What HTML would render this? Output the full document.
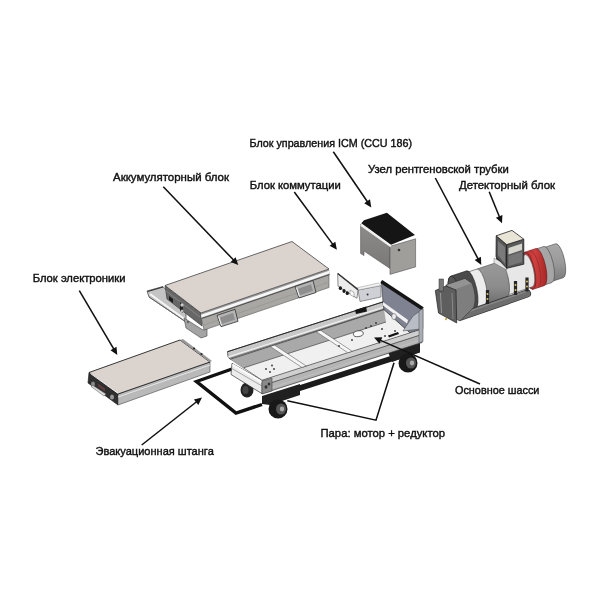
<!DOCTYPE html>
<html><head><meta charset="utf-8"><style>
html,body{margin:0;padding:0;background:#fff;width:600px;height:600px;overflow:hidden}
svg{display:block;filter:blur(0.3px)}
text{font-family:"Liberation Sans",sans-serif;font-size:11.5px;fill:#111;stroke:#111;stroke-width:0.42px}
.ln{stroke:#111;stroke-width:1.55}
</style></head><body>
<svg width="600" height="600" viewBox="0 0 600 600">
<defs>
<linearGradient id="gICM" x1="0" y1="0" x2="0" y2="1"><stop offset="0" stop-color="#8c8b89"/><stop offset="1" stop-color="#7a7977"/></linearGradient>
<linearGradient id="gCyl" x1="0" y1="0" x2="0" y2="1"><stop offset="0" stop-color="#a8a8a8"/><stop offset="0.5" stop-color="#9a9a9a"/><stop offset="1" stop-color="#7a7a7a"/></linearGradient>
<linearGradient id="gCyl2" x1="0" y1="0" x2="0" y2="1"><stop offset="0" stop-color="#9a9a9a"/><stop offset="0.6" stop-color="#8c8c8c"/><stop offset="1" stop-color="#6e6e6e"/></linearGradient>
<linearGradient id="gRed" x1="0" y1="0" x2="1" y2="0"><stop offset="0" stop-color="#b52a2a"/><stop offset="0.5" stop-color="#d04040"/><stop offset="1" stop-color="#a82626"/></linearGradient>
</defs><polygon points="262.0,397.2 420.0,346.6 420.0,352.6 262.0,403.2" fill="#1b1b1b" />
<ellipse cx="247.0" cy="390.0" rx="6.5" ry="7.5" fill="#222"/>
<ellipse cx="245.5" cy="390.0" rx="3.0" ry="4.0" fill="#444"/>
<polyline points="232.0,369.0 196.5,381.5 236.0,413.0 262.0,404.5" fill="none" stroke="#111" stroke-width="3.4" stroke-linejoin="miter" />
<polygon points="262.0,396.0 300.0,384.0 300.0,395.0 270.0,405.0 262.0,404.0" fill="#202020" />
<polygon points="388.0,352.0 420.0,341.0 420.0,352.0 392.0,362.0" fill="#202020" />
<ellipse cx="278.0" cy="409.0" rx="9.5" ry="9.5" fill="#181818"/>
<ellipse cx="281.0" cy="409.0" rx="5.0" ry="5.5" fill="#555"/>
<ellipse cx="282.0" cy="409.0" rx="2.2" ry="2.4" fill="#aaa"/>
<ellipse cx="408.0" cy="363.0" rx="9.5" ry="9.5" fill="#181818"/>
<ellipse cx="411.0" cy="363.0" rx="5.0" ry="5.5" fill="#555"/>
<ellipse cx="412.0" cy="363.0" rx="2.2" ry="2.4" fill="#aaa"/>
<polygon points="262.0,380.2 422.0,329.0 422.0,342.5 262.0,393.7" fill="#b4b4b4" stroke="#333" stroke-width="0.7" stroke-linejoin="round" />
<polygon points="262.0,380.2 422.0,329.0 422.0,334.5 262.0,385.7" fill="#cfcfcf" />
<line x1="262.0" y1="385.7" x2="422.0" y2="334.5" stroke="#444" stroke-width="0.8"/>
<line x1="262.0" y1="390.7" x2="422.0" y2="339.5" stroke="#c4c4c4" stroke-width="0.8"/>
<polygon points="232.0,363.3 262.0,380.2 262.0,393.7 231.0,374.5" fill="#ececec" stroke="#333" stroke-width="0.7" stroke-linejoin="round" />
<line x1="232.5" y1="364.5" x2="262.0" y2="382.0" stroke="#fbfbfb" stroke-width="2.0"/>
<line x1="231.0" y1="368.0" x2="262.0" y2="386.0" stroke="#777" stroke-width="0.6"/>
<polygon points="230.5,359.2 384.0,309.6 410.0,332.8 262.0,380.2" fill="#f0f0f0" stroke="#333" stroke-width="0.6" stroke-linejoin="round" />
<polygon points="230.5,359.2 384.0,309.6 386.0,322.0 243.5,367.9" fill="#a9a9a9" />
<line x1="243.5" y1="367.9" x2="386.0" y2="322.0" stroke="#444" stroke-width="0.7"/>
<polygon points="269.8,346.2 274.2,344.8 306.2,366.0 301.8,367.4" fill="#f6f6f6" stroke="#444" stroke-width="0.5" stroke-linejoin="round" />
<polygon points="315.8,331.4 320.2,330.0 352.2,351.3 347.8,352.7" fill="#f6f6f6" stroke="#444" stroke-width="0.5" stroke-linejoin="round" />
<ellipse cx="358.3" cy="333.7" rx="5.0" ry="2.9" fill="#fafafa" transform="rotate(-8 358.3 333.7)" stroke="#444" stroke-width="0.8"/>
<ellipse cx="266.0" cy="369.0" rx="0.9" ry="0.9" fill="#333"/>
<ellipse cx="270.0" cy="372.0" rx="0.9" ry="0.9" fill="#333"/>
<ellipse cx="274.0" cy="369.0" rx="0.9" ry="0.9" fill="#333"/>
<ellipse cx="272.0" cy="365.5" rx="0.9" ry="0.9" fill="#333"/>
<ellipse cx="339.0" cy="346.0" rx="0.9" ry="0.9" fill="#333"/>
<ellipse cx="371.0" cy="326.0" rx="0.9" ry="0.9" fill="#333"/>
<ellipse cx="376.0" cy="323.0" rx="0.9" ry="0.9" fill="#333"/>
<ellipse cx="382.0" cy="329.0" rx="0.9" ry="0.9" fill="#333"/>
<ellipse cx="385.0" cy="336.0" rx="0.9" ry="0.9" fill="#333"/>
<ellipse cx="352.0" cy="340.0" rx="0.9" ry="0.9" fill="#333"/>
<ellipse cx="395.0" cy="331.0" rx="0.9" ry="0.9" fill="#333"/>
<ellipse cx="366.0" cy="328.0" rx="0.9" ry="0.9" fill="#333"/>
<polygon points="227.5,351.7 383.0,301.9 384.0,309.6 230.5,359.2 228.0,357.0" fill="#c8c8c8" stroke="#333" stroke-width="0.7" stroke-linejoin="round" />
<line x1="228.0" y1="357.0" x2="383.5" y2="307.3" stroke="#f4f4f4" stroke-width="1.1"/>
<line x1="229.0" y1="358.7" x2="384.0" y2="309.1" stroke="#444" stroke-width="0.7"/>
<line x1="227.5" y1="351.7" x2="383.0" y2="301.9" stroke="#222" stroke-width="0.9"/>
<polygon points="381.3,281.0 422.7,308.3 422.7,328.7 410.0,332.8 384.0,309.6 383.0,301.9" fill="#7f8291" stroke="#333" stroke-width="0.6" stroke-linejoin="round" />
<polygon points="383.0,302.0 408.0,320.0 407.0,323.5 383.0,305.5" fill="#f2f2f2" />
<ellipse cx="394.0" cy="316.5" rx="2.3" ry="3.0" fill="#ececec" stroke="#555" stroke-width="0.5"/>
<polygon points="403.0,331.0 413.0,316.0 422.7,309.0 422.7,328.7" fill="#b9bdc6" stroke="#444" stroke-width="0.5" stroke-linejoin="round" />
<polyline points="381.3,281.5 422.7,308.8" fill="none" stroke="#151515" stroke-width="3.6" stroke-linejoin="miter" />
<polygon points="388.0,335.5 398.0,332.0 399.0,334.0 389.0,337.5" fill="#111" />
<polygon points="419.0,311.0 423.0,308.5 423.0,341.5 419.0,343.0" fill="#a9adb5" stroke="#444" stroke-width="0.5" stroke-linejoin="round" />
<polygon points="355.0,310.0 366.0,306.5 367.0,311.5 356.0,314.0" fill="#151515" />
<polygon points="262.0,381.0 272.0,378.0 272.0,391.0 262.0,394.0" fill="#8a8a8a" stroke="#333" stroke-width="0.5" stroke-linejoin="round" />
<ellipse cx="266.0" cy="387.0" rx="1.5" ry="1.8" fill="#333"/>
<ellipse cx="269.0" cy="384.0" rx="1.3" ry="1.5" fill="#333"/>
<path d="M544.3,247.5 L555.8,243.7 A5.2,17.4 -12.4 0 1 563.2,277.7 L551.7,281.5 A5.2,17.4 -12.4 0 1 544.3,247.5 Z" fill="url(#gCyl)" stroke="#444" stroke-width="0.6"/>
<path d="M536.0,249.0 L544.0,246.4 A5.5,18.5 -12.4 0 1 552.0,282.5 L544.0,285.2 A5.5,18.5 -12.4 0 1 536.0,249.0 Z" fill="#a6a6a6" stroke="#444" stroke-width="0.6"/>
<path d="M524.9,252.2 L535.9,248.5 A5.7,19.0 -12.4 0 1 544.1,285.7 L533.1,289.3 A5.7,19.0 -12.4 0 1 524.9,252.2 Z" fill="url(#gRed)" stroke="#6a1a1a" stroke-width="0.6"/>
<ellipse cx="529.0" cy="270.7" rx="5.7" ry="19.0" transform="rotate(-12.4 529.0 270.7)" fill="#b83434" stroke="#6a1a1a" stroke-width="0.6"/>
<path d="M529.9,250.5 A5.7,19.0 -12.4 0 1 538.1,287.6" fill="none" stroke="#8a2a2a" stroke-width="0.6"/>
<path d="M499.5,263.2 L525.5,254.6 A5.0,16.5 -12.4 0 1 532.5,286.8 L506.5,295.4 A5.0,16.5 -12.4 0 1 499.5,263.2 Z" fill="#e7e7e7" stroke="#444" stroke-width="0.6"/>
<path d="M477.1,269.0 L499.1,261.7 A5.4,18.0 -12.4 0 1 506.9,296.9 L484.9,304.1 A5.4,18.0 -12.4 0 1 477.1,269.0 Z" fill="url(#gCyl2)" stroke="#444" stroke-width="0.6"/>
<path d="M467.1,272.3 L477.1,269.0 A5.4,18.0 -12.4 0 1 484.9,304.1 L474.9,307.4 A5.4,18.0 -12.4 0 1 467.1,272.3 Z" fill="#ececec" stroke="#444" stroke-width="0.6"/>
<path d="M450.8,276.1 L466.8,270.8 A5.8,19.5 -12.4 0 1 475.2,308.9 L459.2,314.2 A5.8,19.5 -12.4 0 1 450.8,276.1 Z" fill="#4a4a4a" stroke="#222" stroke-width="0.6"/>
<ellipse cx="455.0" cy="295.2" rx="5.8" ry="19.5" transform="rotate(-12.4 455.0 295.2)" fill="#555" stroke="#222" stroke-width="0.6"/>
<line x1="461" y1="316.5" x2="527" y2="293.5" stroke="#333" stroke-width="8.2" stroke-linecap="round"/>
<line x1="461" y1="316.5" x2="527" y2="293.5" stroke="#6e6e6e" stroke-width="6.8" stroke-linecap="round"/>
<line x1="461.0" y1="314.3" x2="527.0" y2="291.3" stroke="#8a8a8a" stroke-width="1.2"/>
<path d="M446,285 L465,278.5 L472,283 Q477,296 474,307 L460,321 L448,315 Z" fill="#7e7e7e" stroke="#333" stroke-width="0.6"/>
<polygon points="447.0,285.0 465.0,279.0 471.0,283.5 453.0,290.0" fill="#939393" />
<polygon points="435.3,290.5 446.0,286.0 456.0,290.0 456.7,323.0 438.5,313.0" fill="#5e5e5e" stroke="#222" stroke-width="0.7" stroke-linejoin="round" />
<line x1="440.5" y1="293.0" x2="441.5" y2="313.0" stroke="#9a9a9a" stroke-width="1"/>
<line x1="452.0" y1="293.0" x2="453.0" y2="319.0" stroke="#8a8a8a" stroke-width="1"/>
<polygon points="439.0,279.0 443.5,279.0 443.5,291.0 439.0,291.0" fill="#777" stroke="#333" stroke-width="0.5" stroke-linejoin="round" />
<ellipse cx="446.0" cy="319.0" rx="1.2" ry="1.2" fill="#c8b060"/>
<polygon points="485.9,290.0 489.1,290.0 489.1,304.0 485.9,304.0" fill="#252525" />
<ellipse cx="487.5" cy="294.0" rx="1.0" ry="1.1" fill="#d8c060"/>
<ellipse cx="487.5" cy="299.0" rx="1.0" ry="1.1" fill="#d8c060"/>
<polygon points="513.9,281.0 517.1,281.0 517.1,295.0 513.9,295.0" fill="#252525" />
<ellipse cx="515.5" cy="285.0" rx="1.0" ry="1.1" fill="#d8c060"/>
<ellipse cx="515.5" cy="290.0" rx="1.0" ry="1.1" fill="#d8c060"/>
<polygon points="525.4,277.5 528.6,277.5 528.6,291.5 525.4,291.5" fill="#252525" />
<ellipse cx="527.0" cy="281.5" rx="1.0" ry="1.1" fill="#d8c060"/>
<ellipse cx="527.0" cy="286.5" rx="1.0" ry="1.1" fill="#d8c060"/>
<polygon points="496.0,258.0 502.0,256.0 503.0,263.0 497.0,265.0" fill="#333" />
<polygon points="494.0,258.0 506.7,265.0 506.7,270.0 494.0,263.0" fill="#e4e4e4" stroke="#555" stroke-width="0.4" stroke-linejoin="round" />
<polygon points="496.2,235.8 506.7,244.6 506.7,268.3 496.0,257.0" fill="#555" stroke="#111" stroke-width="0.7" stroke-linejoin="round" />
<polygon points="498.0,241.0 505.0,247.0 505.0,264.0 498.0,255.0" fill="#7a7a7a" />
<polygon points="506.7,244.6 523.8,239.2 523.8,264.2 506.7,268.3" fill="#5a5a5a" stroke="#111" stroke-width="0.7" stroke-linejoin="round" />
<polygon points="508.5,248.0 522.0,243.5 522.0,250.0 508.5,254.5" fill="#d6d6cf" />
<polygon points="508.5,256.0 522.0,251.5 522.0,262.0 508.5,266.0" fill="#767676" />
<polygon points="496.2,235.8 512.0,230.4 523.8,239.2 506.7,244.6" fill="#e9e5d6" stroke="#222" stroke-width="0.8" stroke-linejoin="round" /><polygon points="147.0,291.0 163.0,286.5 186.0,313.0 186.0,322.0 149.0,297.0" fill="#c4c4c4" stroke="#444" stroke-width="0.7" stroke-linejoin="round" />
<line x1="147.5" y1="291.5" x2="163.0" y2="287.0" stroke="#333" stroke-width="1.2"/>
<line x1="150.0" y1="294.0" x2="185.0" y2="319.5" stroke="#f6f6f6" stroke-width="2.0"/>
<line x1="149.0" y1="297.0" x2="186.0" y2="322.0" stroke="#555" stroke-width="0.7"/>
<polygon points="165.0,285.5 201.0,313.0 202.0,326.0 167.0,299.0" fill="#676767" stroke="#333" stroke-width="0.6" stroke-linejoin="round" />
<line x1="166.0" y1="291.0" x2="200.0" y2="317.0" stroke="#8c8c8c" stroke-width="0.8"/>
<polygon points="169.0,296.0 173.0,299.0 173.0,303.0 169.0,300.0" fill="#1a1a1a" />
<polygon points="180.0,302.0 183.0,304.0 183.0,313.0 180.0,311.0" fill="#222" />
<ellipse cx="182.0" cy="305.0" rx="1.6" ry="1.8" fill="#ccc"/>
<ellipse cx="182.0" cy="311.0" rx="1.4" ry="1.6" fill="#bbb"/>
<polygon points="184.0,318.0 203.0,330.0 207.0,329.0 207.0,336.0 201.0,338.0 186.0,328.0" fill="#a4a4a4" stroke="#444" stroke-width="0.6" stroke-linejoin="round" />
<ellipse cx="188.0" cy="322.0" rx="1.3" ry="1.3" fill="#666"/>
<polygon points="201.0,317.0 329.0,273.0 329.0,287.5 204.0,330.0" fill="#a9a7a3" stroke="#555" stroke-width="0.6" stroke-linejoin="round" />
<line x1="204.0" y1="325.0" x2="329.0" y2="282.0" stroke="#999793" stroke-width="0.8"/>
<polygon points="201.0,313.0 329.0,269.0 329.5,274.5 201.5,318.5" fill="#9a9a9a" />
<polygon points="201.0,314.8 329.0,270.8 329.5,273.6 201.5,317.6" fill="#f6f6f6" />
<line x1="201.5" y1="318.6" x2="329.5" y2="274.6" stroke="#444" stroke-width="0.9"/>
<polygon points="165.0,285.5 292.0,241.5 329.0,269.0 201.0,313.0" fill="#dad3ce" stroke="#444" stroke-width="0.8" stroke-linejoin="round" />
<polygon points="217.0,315.3 235.0,309.3 238.0,321.3 221.0,326.7" fill="#b4b4b4" stroke="#333" stroke-width="0.8" stroke-linejoin="round" />
<polygon points="220.0,317.5 233.0,313.0 235.0,319.5 222.0,324.0" fill="#8e8e8e" />
<line x1="218.5" y1="316.5" x2="221.5" y2="325.5" stroke="#f0f0f0" stroke-width="1"/>
<polygon points="295.0,286.5 313.0,280.5 316.0,292.5 299.0,298.0" fill="#b4b4b4" stroke="#333" stroke-width="0.8" stroke-linejoin="round" />
<polygon points="298.0,288.7 311.0,284.2 313.0,290.7 300.0,295.2" fill="#8e8e8e" />
<line x1="296.5" y1="287.7" x2="299.5" y2="296.7" stroke="#f0f0f0" stroke-width="1"/>
<polygon points="89.0,372.5 118.0,394.0 118.0,405.0 88.0,383.0" fill="#2f2f2f" stroke="#111" stroke-width="0.6" stroke-linejoin="round" />
<polygon points="98.0,383.5 105.0,388.5 105.0,391.5 98.0,386.5" fill="#5e3c3e" />
<ellipse cx="93.0" cy="384.0" rx="2.0" ry="2.5" fill="#888"/>
<polygon points="91.0,386.5 93.0,385.5 106.0,394.0 104.0,396.0" fill="#dcdcdc" stroke="#555" stroke-width="0.5" stroke-linejoin="round" />
<ellipse cx="112.0" cy="397.0" rx="2.0" ry="2.5" fill="#999"/>
<polygon points="118.0,394.0 210.0,362.0 210.0,372.0 118.0,405.0" fill="#b9b9b9" stroke="#444" stroke-width="0.6" stroke-linejoin="round" />
<line x1="118.0" y1="397.0" x2="210.0" y2="365.0" stroke="#e6e6e6" stroke-width="1"/>
<polygon points="89.0,372.5 180.0,340.0 210.0,362.0 118.0,394.0" fill="#dad3ce" stroke="#222" stroke-width="0.9" stroke-linejoin="round" />
<line x1="90.5" y1="373.5" x2="118.0" y2="393.3" stroke="#f4f2ef" stroke-width="1.0"/>
<polygon points="180.0,340.0 210.0,362.0 212.0,361.0 183.0,339.0" fill="#999" />
<ellipse cx="194.0" cy="348.5" rx="1.1" ry="1.1" fill="#222"/>
<ellipse cx="201.5" cy="354.0" rx="1.1" ry="1.1" fill="#222"/>
<polygon points="360.6,224.4 390.0,246.3 390.0,268.5 364.0,251.0 364.0,255.5 360.6,253.5" fill="url(#gICM)" stroke="#555" stroke-width="0.6" stroke-linejoin="round" />
<polygon points="390.0,246.3 415.6,238.8 415.6,266.9 390.0,274.4" fill="#a09e9b" stroke="#555" stroke-width="0.6" stroke-linejoin="round" />
<polygon points="361.3,223.2 364.0,220.2 386.9,212.8 415.0,235.0 391.0,244.8" fill="#151515" />
<line x1="360.8" y1="224.9" x2="391.0" y2="246.6" stroke="#f0f0f0" stroke-width="1.8"/>
<ellipse cx="399.0" cy="250.0" rx="1.3" ry="1.3" fill="#333"/>
<polygon points="358.0,290.0 381.0,285.5 381.0,297.0 360.0,301.5" fill="#cfd0d6" stroke="#555" stroke-width="0.6" stroke-linejoin="round" />
<polygon points="356.0,288.0 378.5,283.0 381.0,285.5 358.0,290.0" fill="#f2f2f2" stroke="#777" stroke-width="0.4" stroke-linejoin="round" />
<ellipse cx="367.6" cy="294.5" rx="1.0" ry="1.0" fill="#333"/>
<polygon points="337.7,273.5 358.0,289.6 357.0,298.3 338.0,286.3" fill="#ececec" stroke="#444" stroke-width="0.6" stroke-linejoin="round" />
<line x1="337.7" y1="273.5" x2="358.0" y2="289.6" stroke="#333" stroke-width="1.5"/>
<ellipse cx="340.4" cy="288.2" rx="1.6" ry="1.9" fill="#1a1a1a"/>
<ellipse cx="344.0" cy="291.0" rx="1.6" ry="1.9" fill="#1a1a1a"/>
<ellipse cx="347.3" cy="293.2" rx="1.6" ry="1.9" fill="#1a1a1a"/>
<polygon points="350.0,290.0 354.0,292.5 354.0,297.0 350.0,294.5" fill="#fafafa" stroke="#555" stroke-width="0.4" stroke-linejoin="round" />
<text x="249.5" y="147" textLength="162.5" lengthAdjust="spacingAndGlyphs">Блок управления ICM (CCU 186)</text><text x="113" y="181" textLength="116.0" lengthAdjust="spacingAndGlyphs">Аккумуляторный блок</text><text x="249.7" y="189.2" textLength="91.1" lengthAdjust="spacingAndGlyphs">Блок коммутации</text><text x="368" y="172.8" textLength="140.8" lengthAdjust="spacingAndGlyphs">Узел рентгеновской трубки</text><text x="459" y="188.75" textLength="96.0" lengthAdjust="spacingAndGlyphs">Детекторный блок</text><text x="32.7" y="282.4" textLength="92.8" lengthAdjust="spacingAndGlyphs">Блок электроники</text><text x="455" y="393.7" textLength="84.4" lengthAdjust="spacingAndGlyphs">Основное шасси</text><text x="320.5" y="436.8" textLength="124.5" lengthAdjust="spacingAndGlyphs">Пара: мотор + редуктор</text><text x="95.5" y="455.2" textLength="118.3" lengthAdjust="spacingAndGlyphs">Эвакуационная штанга</text><line x1="333.3" y1="151.7" x2="367.6" y2="202.0" class="ln"/><polygon points="371.3,207.4 364.2,203.2 370.0,199.2" fill="#111"/><line x1="163.3" y1="186.7" x2="233.8" y2="260.3" class="ln"/><polygon points="238.3,265.0 230.6,262.0 235.6,257.2" fill="#111"/><line x1="294.3" y1="192.0" x2="333.0" y2="244.6" class="ln"/><polygon points="336.9,249.8 329.6,245.8 335.3,241.7" fill="#111"/><line x1="435.3" y1="178.0" x2="478.3" y2="259.3" class="ln"/><polygon points="481.3,265.0 474.7,260.0 480.9,256.7" fill="#111"/><line x1="489.2" y1="191.7" x2="499.6" y2="217.3" class="ln"/><polygon points="502.0,223.3 495.9,217.7 502.4,215.0" fill="#111"/><line x1="79.3" y1="290.7" x2="114.0" y2="349.4" class="ln"/><polygon points="117.3,355.0 110.5,350.3 116.5,346.8" fill="#111"/><line x1="480.0" y1="384.0" x2="380.0" y2="340.1" class="ln"/><polygon points="374.0,337.5 382.3,337.3 379.5,343.7" fill="#111"/><line x1="141.7" y1="445.0" x2="196.9" y2="401.5" class="ln"/><polygon points="202.0,397.5 198.3,404.9 193.9,399.4" fill="#111"/><polyline points="287.3,400.8 376,420.2 394,362.7" class="ln" fill="none"/>
</svg></body></html>
